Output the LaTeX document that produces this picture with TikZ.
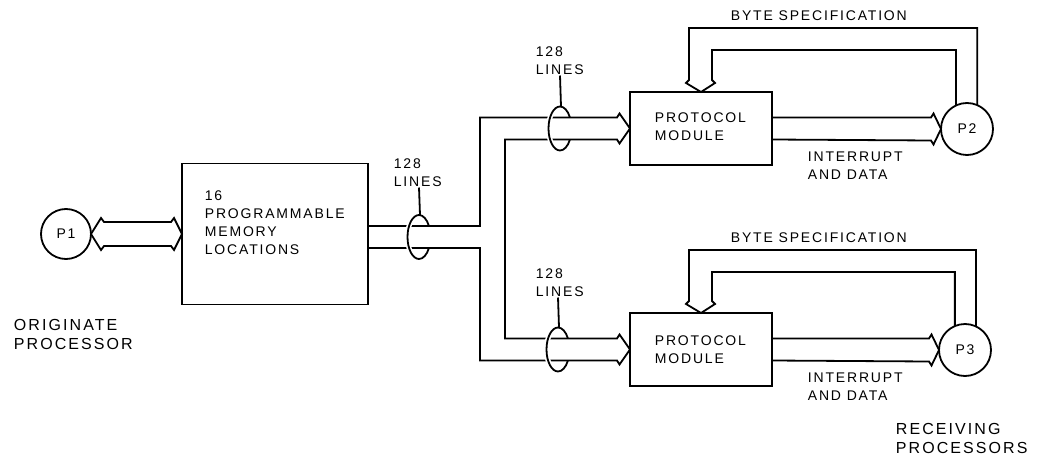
\documentclass[tikz,border=0pt]{standalone}
\usepackage{fontspec}
\newfontfamily\lblfont{Liberation Sans}[LetterSpace=13]
\begin{document}
\begin{tikzpicture}[x=1pt,y=-1pt,line width=1.8pt,line join=miter,
  lbl/.style={font={\lblfont\fontsize{14}{17.8}\selectfont},anchor=north west,inner sep=0pt,align=left},
  captxt/.style={font={\lblfont\fontsize{16}{19}\selectfont},anchor=north west,inner sep=0pt,align=left},
  blk/.style={draw,rectangle,inner sep=0pt,outer sep=0pt},
  proc/.style={draw,circle,inner sep=0pt,outer sep=0pt,font={\lblfont\fontsize{14}{17}\selectfont}},
  gap/.style={white,line width=5pt}]
\useasboundingbox (0,0) rectangle (1040,457);
% nodes
\node[proc,minimum size=50pt] (p1) at (66,234) {P1};
\node[blk,minimum width=186pt,minimum height=141pt] (mem) at (275,234) {};
\node[blk,minimum width=142pt,minimum height=73pt] (mod1) at (701,128.5) {};
\node[blk,minimum width=142pt,minimum height=73pt] (mod2) at (701,349.5) {};
\node[proc,minimum size=52pt] (p2) at (967,129) {P2};
\node[proc,minimum size=52pt] (p3) at (965,350) {P3};
% texts
\node[lbl] (memtxt) at (204,190) {16\\PROGRAMMABLE\\MEMORY\\LOCATIONS};
\node[lbl] (t0) at (393,158) {128\\LINES};
\node[lbl] (t1) at (535,46) {128\\LINES};
\node[lbl] (t2) at (535,268) {128\\LINES};
\node[lbl] (pm1) at (654,112) {PROTOCOL\\MODULE};
\node[lbl] (pm2) at (654,335) {PROTOCOL\\MODULE};
\node[lbl] (bs1) at (730,10) {BYTE SPECIFICATION};
\node[lbl] (bs2) at (730,232) {BYTE SPECIFICATION};
\node[lbl] (id1) at (807,151) {INTERRUPT\\AND DATA};
\node[lbl] (id2) at (807,372) {INTERRUPT\\AND DATA};
\node[captxt] (orig) at (13,318) {ORIGINATE\\PROCESSOR};
\node[captxt] (recv) at (895,422) {RECEIVING\\PROCESSORS};
% levels
\coordinate (yA) at (0,226);
\coordinate (yB) at (0,248);
\coordinate (yU1) at (0,117.5);
\coordinate (yU2) at (0,139.5);
\coordinate (yL1) at (0,338.5);
\coordinate (yL2) at (0,360.5);
\coordinate (bo1) at (0,28);
\coordinate (bi1) at (0,50);
\coordinate (bo2) at (0,250);
\coordinate (bi2) at (0,272);
% P1 <-> memory
\draw (p1.east) -- (101,218) -- (104,222) -- (171,222) -- (174,218) -- (mem.west)
  -- (174,250) -- (171,246) -- (104,246) -- (101,250) -- cycle;
% main bus to the modules
\draw (mem.east |- yA) -- (480,226) -- (480,117.5) -- (617,117.5) -- (619.5,113.5) -- (mod1.west);
\draw (mod1.west) -- (619.5,143.5) -- (617,139.5) -- (505,139.5) -- (505,338.5)
  -- (617,338.5) -- (619.5,334.5) -- (mod2.west);
\draw (mod2.west) -- (619.5,364.5) -- (617,360.5) -- (480,360.5) -- (480,248) -- (mem.east |- yB);
% interrupt and data
\draw (mod1.east |- yU1) -- (931,117.5) -- (933.5,113.5) -- (p2.west)
  -- (933.5,144.5) -- (931,140.5) -- (mod1.east |- yU2);
\draw (mod2.east |- yL1) -- (929,338.5) -- (931.5,334.5) -- (p3.west)
  -- (931.5,365.5) -- (929,361.5) -- (mod2.east |- yL2);
% byte specification
\draw (p2.67) -- (p2.67 |- bo1) -- (689,28) -- (689,80) -- (686,83) -- (mod1.north)
  -- (715,83) -- (712,80) -- (712,50) -- (p2.115 |- bi1) -- (p2.115);
\draw (p3.65) -- (p3.65 |- bo2) -- (689,250) -- (689,301) -- (686,304) -- (mod2.north)
  -- (715,304) -- (712,301) -- (712,272) -- (p3.113 |- bi2) -- (p3.113);
% cable loops
\coordinate (c0) at (419,237);
\coordinate (c1) at (560,128.5);
\coordinate (c2) at (558,349.5);
\foreach \c/\t in {c0/t0,c1/t1,c2/t2}{
  \draw[gap] (\c) ++(97:11.5 and 22) arc[start angle=97,end angle=263,x radius=11.5,y radius=22];
  \draw (\c) ++(90:11.5 and 22) arc[start angle=90,end angle=270,x radius=11.5,y radius=22];
  \draw (\c) ++(-90:11.5 and 22) arc[start angle=-90,end angle=-30,x radius=11.5,y radius=22];
  \draw (\c) ++(30:11.5 and 22) arc[start angle=30,end angle=90,x radius=11.5,y radius=22];
  \draw (\c) ++(1,-22) -- (\c |- \t.south);
}
\end{tikzpicture}
\end{document}
